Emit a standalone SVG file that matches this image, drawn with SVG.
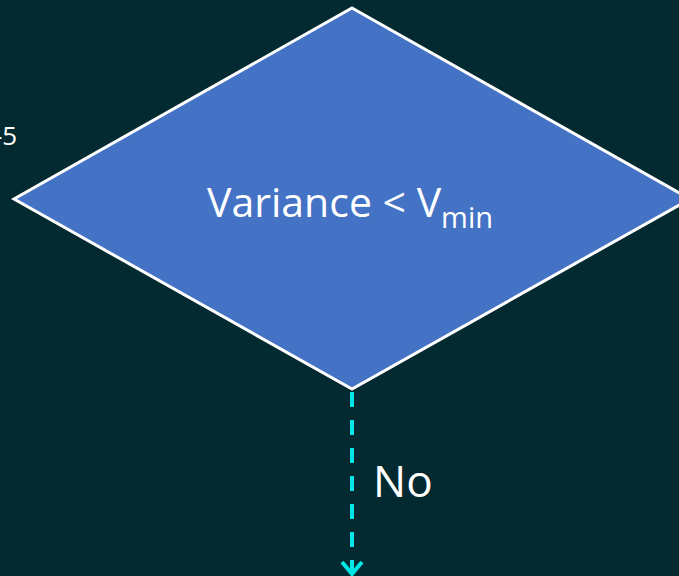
<svg xmlns="http://www.w3.org/2000/svg" width="679" height="576" viewBox="0 0 679 576">
<style>
.t{font-family:"Open Sans","Noto Sans",sans-serif;fill:#fff}
.conn{stroke:#00e5e5;stroke-width:4;fill:none}
</style>
<rect width="679" height="576" fill="#022a30"/>
<g id="label-5"><text class="t" x="-6" y="145" font-size="26">-5</text></g>
<g id="decision">
<polygon points="352,8 690,199 352,389 14,199" fill="#4472c4" stroke="#fff" stroke-width="3" stroke-linejoin="miter"/>
<text class="t" x="207" y="217" font-size="41">Variance &lt; V<tspan font-size="29" dy="11">min</tspan></text>
</g>
<g id="connectors">
<line class="conn" x1="352" y1="392" x2="352" y2="572" stroke-dasharray="15,13"/>
<polyline class="conn" points="342,562 352,574 362,562"/>
<text class="t" x="373" y="497" font-size="44">No</text>
</g>
</svg>
